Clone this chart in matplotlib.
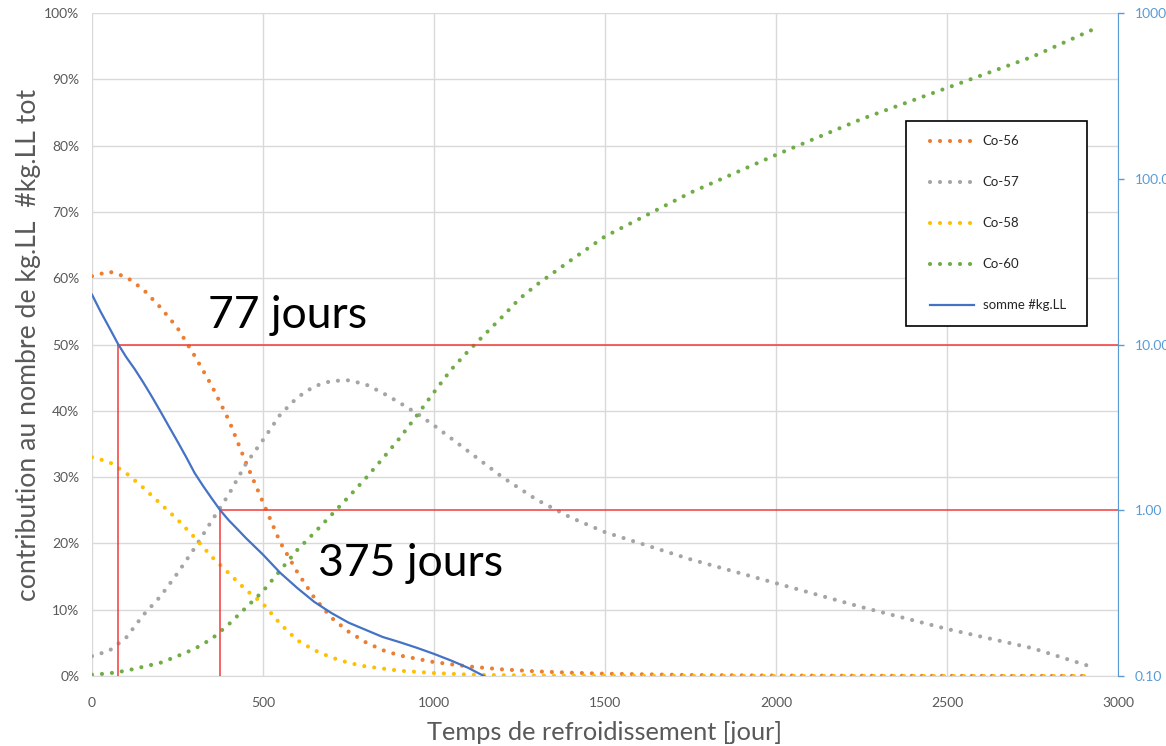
import matplotlib
matplotlib.use("Agg")
import matplotlib.pyplot as plt
from matplotlib.ticker import PercentFormatter, FuncFormatter, NullLocator, FixedLocator
from matplotlib.patches import Rectangle

plt.rcParams['font.family'] = ['Lato', 'DejaVu Sans']

# --- Contribution of each isotope (% of total kg.LL) vs cooling time (days) ---
t_co56 = [0, 50, 100, 150, 200, 250, 300, 350, 400, 450, 500, 550, 600, 650, 700,
          750, 800, 850, 900, 1000, 1100, 1200, 1300, 1400, 1500, 1750, 2000, 2500, 2922]
co56 = [60.3, 61.0, 60.2, 58.3, 55.6, 52.5, 48.3, 43.8, 38.6, 32.2, 26.2, 20.2, 15.7, 11.8, 8.8,
        6.7, 5.1, 3.9, 3.1, 2.1, 1.45, 1.0, 0.7, 0.5, 0.35, 0.15, 0.07, 0.02, 0.01]

t_co57 = [0, 50, 100, 150, 200, 250, 300, 350, 400, 450, 500, 550, 600, 650, 700, 750,
          800, 850, 900, 950, 1000, 1100, 1200, 1300, 1400, 1500, 1750, 2000, 2250, 2500,
          2750, 2922]
co57 = [3.0, 3.8, 5.8, 9.2, 12.0, 15.5, 19.3, 23.4, 27.4, 32.0, 35.6, 39.4, 42.0, 43.7, 44.5, 44.6,
        44.0, 42.7, 41.2, 39.6, 37.8, 33.9, 30.0, 26.6, 23.9, 21.7, 17.6, 14.0, 10.4, 7.1,
        4.2, 1.4]

t_co58 = [0, 50, 100, 150, 200, 250, 300, 350, 400, 450, 500, 550, 600, 650, 700, 750,
          800, 900, 1000, 1100, 1200, 1500, 2000, 2500, 2922]
co58 = [33.0, 32.3, 30.6, 28.4, 26.0, 23.6, 20.9, 18.0, 15.5, 13.0, 10.9, 7.9, 5.4, 3.9, 2.8, 2.0,
        1.45, 0.8, 0.45, 0.22, 0.12, 0.03, 0.01, 0.0, 0.0]

t_co60 = [0, 50, 100, 150, 200, 250, 300, 350, 400, 450, 500, 550, 600, 650, 700, 750, 800,
          850, 900, 950, 1000, 1050, 1100, 1150, 1200, 1250, 1300, 1400, 1500, 1750, 2000,
          2250, 2500, 2750, 2922]
co60 = [0.2, 0.4, 0.8, 1.4, 2.0, 3.0, 4.1, 5.6, 7.8, 10.3, 12.8, 15.9, 19.0, 21.6, 24.3, 27.0, 29.8,
        32.8, 35.9, 39.3, 42.8, 46.2, 49.0, 51.6, 54.2, 56.9, 59.0, 62.7, 66.3, 72.9, 78.6,
        84.0, 88.7, 93.4, 97.4]

# --- Total number of kg.LL (secondary log axis) ---
t_sum = [0, 25, 50, 77, 100, 125, 150, 175, 200, 225, 250, 275, 300, 325, 350, 375, 400,
         425, 450, 500, 550, 600, 650, 700, 750, 800, 850, 900, 950, 1000, 1050, 1100,
         1150, 1200]
somme = [20.0, 15.8, 12.7, 10.0, 8.4, 7.1, 5.9, 4.85, 3.95, 3.2, 2.6, 2.1, 1.68, 1.40, 1.18,
         1.0, 0.87, 0.77, 0.68, 0.54, 0.42, 0.34, 0.28, 0.24, 0.21, 0.19, 0.172, 0.160,
         0.148, 0.136, 0.124, 0.112, 0.099, 0.088]

# Thresholds: days needed to reach 10 and 1 kg.LL
seuil_jours = [77, 375]
seuil_kgll = [10, 1]

series = [("Co-56", t_co56, co56, "#ED7D31"),
          ("Co-57", t_co57, co57, "#A5A5A5"),
          ("Co-58", t_co58, co58, "#FFC000"),
          ("Co-60", t_co60, co60, "#70AD47")]

x_ticks = [0, 500, 1000, 1500, 2000, 2500, 3000]
y_ticks = list(range(0, 101, 10))
y2_ticks = [0.1, 1, 10, 100, 1000]

grey_txt = "#595959"
axis_blue = "#5B9BD5"
dot_style = (0, (0.0001, 2.4))

fig = plt.figure(figsize=(11.66, 7.46), dpi=100)
ax = fig.add_axes([0.0789, 0.0938, 0.8799, 0.8888])

handles = []
for name, t, v, c in series:
    ln, = ax.plot(t, v, color=c, lw=3.0, linestyle=dot_style,
                  dash_capstyle="round", label=name)
    handles.append(ln)

ax.set_xlim(0, 3000)
ax.set_ylim(0, 100)
ax.xaxis.set_major_locator(FixedLocator(x_ticks))
ax.yaxis.set_major_locator(FixedLocator(y_ticks))
ax.yaxis.set_major_formatter(PercentFormatter(xmax=100, decimals=0))
ax.grid(True, color="#d9d9d9", lw=1.0)
ax.set_axisbelow(True)
for s in ("top", "right", "left"):
    ax.spines[s].set_visible(False)
ax.spines["bottom"].set_color("#d9d9d9")
ax.tick_params(axis="both", length=0, labelsize=10, labelcolor=grey_txt)
ax.tick_params(axis="y", pad=9)
ax.tick_params(axis="x", pad=15)

ax.set_xlabel("Temps de refroidissement [jour]", fontsize=18.3, color=grey_txt)
ax.set_ylabel("contribution au nombre de kg.LL  #kg.LL tot", fontsize=19.2, color=grey_txt)
ax.xaxis.set_label_coords(0.5, -0.068)
ax.yaxis.set_label_coords(-0.050, 0.5)

ax2 = ax.twinx()
ax2.set_yscale("log")
ax2.set_ylim(0.1, 1000)
ax2.yaxis.set_major_locator(FixedLocator(y2_ticks))
ax2.yaxis.set_minor_locator(NullLocator())
ax2.yaxis.set_major_formatter(FuncFormatter(lambda v, p: f"{v:.2f}"))
for s in ("top", "left", "bottom"):
    ax2.spines[s].set_visible(False)
ax2.spines["right"].set_color(axis_blue)
ax2.tick_params(axis="y", colors=axis_blue, labelcolor=axis_blue, length=4,
                width=1, labelsize=10, pad=8)

# threshold guides
for d, k in zip(seuil_jours, seuil_kgll):
    ax2.plot([d, 3000], [k, k], color="#f23a3a", lw=1.1, zorder=2)
    ax2.plot([d, d], [0.1, k], color="#f23a3a", lw=1.1, zorder=2)

ln_sum, = ax2.plot(t_sum, somme, color="#4472C4", lw=1.6, zorder=3, label="somme #kg.LL")
handles.append(ln_sum)

ax2.text(339, 52.5, f"{seuil_jours[0]} jours", transform=ax.transData,
         fontsize=32, color="black", va="baseline", ha="left", zorder=5)
ax2.text(661, 15.1, f"{seuil_jours[1]} jours", transform=ax.transData,
         fontsize=32, color="black", va="baseline", ha="left", zorder=5)

# legend box drawn separately so its padding can be set per side
ax2.add_patch(Rectangle((0.793, 0.528), 0.177, 0.309, transform=ax2.transAxes,
                        facecolor="white", edgecolor="black", lw=1.2, zorder=6))
leg = ax2.legend(handles=handles, loc="upper left", bbox_to_anchor=(0.8168, 0.8155),
                 borderaxespad=0, borderpad=0, frameon=False, fontsize=9.5,
                 handlelength=3.3, handletextpad=0.7, labelspacing=2.2)
leg.set_zorder(7)
for txt in leg.get_texts():
    txt.set_color("#262626")

fig.savefig("out.png", dpi=100)
